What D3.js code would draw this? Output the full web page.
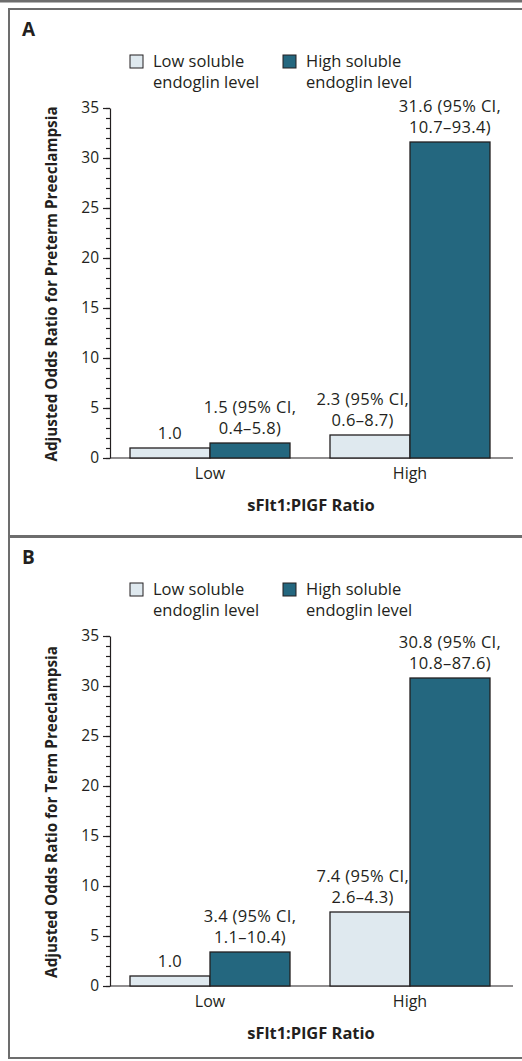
<!DOCTYPE html>
<html lang="en">
<head>
    <meta charset="UTF-8">
    <title>sEng and sFlt1:PlGF odds ratios</title>
    <script src="https://d3js.org/d3.v7.min.js"></script>
</head>
<style>
    * {
        margin: 0;
        padding: 0;
    }
    body {
        background: #fff;
    }
    text {
        font-family: "Open Sans", "Noto Sans", sans-serif;
        fill: #231f20;
    }
    .axis path, .axis line {
        stroke: #231f20;
        stroke-width: 1.2;
    }
</style>
<body>
<script>
    // categories
    var groups = ["Low", "High"];
    var seriesNames = ["Low soluble endoglin level", "High soluble endoglin level"];
    var legendLines = [["Low soluble", "endoglin level"], ["High soluble", "endoglin level"]];
    var seriesColors = ["#dfe9ef", "#24677f"];

    // panel A - preterm preeclampsia
    var pretermLowSeng = [1.0, 2.3];
    var pretermHighSeng = [1.5, 31.6];
    var pretermLowSengLabels = [["1.0"], ["2.3 (95% CI,", "0.6\u20138.7)"]];
    var pretermHighSengLabels = [["1.5 (95% CI,", "0.4\u20135.8)"], ["31.6 (95% CI,", "10.7\u201393.4)"]];

    // panel B - term preeclampsia
    var termLowSeng = [1.0, 7.4];
    var termHighSeng = [3.4, 30.8];
    var termLowSengLabels = [["1.0"], ["7.4 (95% CI,", "2.6\u20134.3)"]];
    var termHighSengLabels = [["3.4 (95% CI,", "1.1\u201310.4)"], ["30.8 (95% CI,", "10.8\u201387.6)"]];

    var yMajorTicks = [0, 5, 10, 15, 20, 25, 30, 35];
    var yMinorTicks = [];
    for (let i = 0; i <= 35; i++) yMinorTicks.push(i);

    var width = 522,
        height = 1061;

    var svg = d3.select("body")
                .append("svg")
                .attr("width", width)
                .attr("height", height);

    // thick rule at the very top
    svg.append("rect")
        .attr("x", 0).attr("y", 0)
        .attr("width", width).attr("height", 2.5)
        .style("fill", "#6d6d6d");

    var x0 = d3.scaleBand()
                .domain(groups)
                .range([110, 510])
                .paddingInner(0.2)
                .paddingOuter(0.1);

    var x1 = d3.scaleBand()
                .domain([0, 1])
                .range([0, x0.bandwidth()]);

    function drawPanel(top, boxH, letter, yTitle, lowVals, highVals, lowLabels, highLabels) {
        var g = svg.append("g").attr("transform", "translate(0," + top + ")");

        g.append("rect")
            .attr("x", 9).attr("y", 9)
            .attr("width", 600).attr("height", boxH)
            .style("fill", "none")
            .style("stroke", "#6d6d6d")
            .style("stroke-width", 2);

        g.append("text")
            .attr("x", 22).attr("y", 36)
            .style("font-size", "19px")
            .style("font-weight", "bold")
            .text(letter);

        // legend
        var legendX = [130, 283];
        seriesNames.forEach(function(name, i) {
            g.append("rect")
                .attr("x", legendX[i]).attr("y", 55)
                .attr("width", 13).attr("height", 13)
                .style("fill", seriesColors[i])
                .style("stroke", "#231f20")
                .style("stroke-width", 1);
            legendLines[i].forEach(function(line, j) {
                g.append("text")
                    .attr("x", legendX[i] + 23)
                    .attr("y", 67 + j * 21)
                    .style("font-size", "16.5px")
                    .text(line);
            });
        });

        var y = d3.scaleLinear()
                    .domain([0, 35])
                    .range([458, 108]);

        // minor ticks
        g.append("g")
            .attr("class", "axis")
            .attr("transform", "translate(110,0)")
            .call(d3.axisLeft(y).tickValues(yMinorTicks).tickSize(4).tickSizeOuter(0).tickFormat(""));

        var yAxis = g.append("g")
            .attr("class", "axis")
            .attr("transform", "translate(110,0)")
            .call(d3.axisLeft(y).tickValues(yMajorTicks).tickSize(7).tickSizeOuter(0).tickPadding(4));
        yAxis.selectAll("text")
            .style("font-size", "15.5px")
            .style("font-family", null);
        yAxis.select(".domain").remove();

        // x baseline
        g.append("line")
            .attr("x1", 110).attr("x2", 513)
            .attr("y1", y(0)).attr("y2", y(0))
            .style("stroke", "#231f20")
            .style("stroke-width", 1.2);

        var xAxis = g.append("g")
            .attr("class", "axis")
            .attr("transform", "translate(0," + y(0) + ")")
            .call(d3.axisBottom(x0).tickSize(0).tickPadding(10));
        xAxis.select(".domain").remove();
        xAxis.selectAll("text")
            .style("font-size", "16px")
            .style("font-family", null);

        var bars = [];
        groups.forEach(function(grp, i) {
            bars.push({group: grp, s: 0, value: lowVals[i], label: lowLabels[i], next: highVals[i]});
            bars.push({group: grp, s: 1, value: highVals[i], label: highLabels[i], next: null});
        });

        g.selectAll(".bar")
            .data(bars)
            .enter()
            .append("rect")
            .attr("class", "bar")
            .attr("x", function(d) { return x0(d.group) + x1(d.s); })
            .attr("width", x1.bandwidth())
            .attr("y", function(d) { return y(d.value); })
            .attr("height", function(d) { return y(0) - y(d.value); })
            .style("fill", function(d) { return seriesColors[d.s]; })
            .style("stroke", "#231f20")
            .style("stroke-width", 1.3);

        // value labels, one text per line
        bars.forEach(function(d) {
            var left = x0(d.group) + x1(d.s);
            var cx = left + x1.bandwidth() / 2;
            var n = d.label.length;
            var lines = d.label.map(function(line, j) {
                return g.append("text")
                    .attr("x", cx)
                    .attr("y", y(d.value) - 9 - (n - 1 - j) * 21.5)
                    .attr("text-anchor", "middle")
                    .style("font-size", "16.5px")
                    .style("letter-spacing", "0.35px")
                    .text(line);
            });
            // keep wide labels clear of a taller neighbour on the right
            if (d.next !== null && d.next > d.value) {
                var w = d3.max(lines, function(t) { return t.node().getBBox().width; });
                var right = left + x1.bandwidth();
                var c = Math.min(cx, right - w / 2 - 1);
                lines.forEach(function(t) { t.attr("x", c); });
            }
        });

        g.append("text")
            .attr("x", 311).attr("y", 511)
            .attr("text-anchor", "middle")
            .style("font-size", "16.5px")
            .style("font-weight", "bold")
            .text("sFlt1:PlGF Ratio");

        g.append("text")
            .attr("transform", "translate(57,284) rotate(-90)")
            .attr("text-anchor", "middle")
            .style("font-size", "15.3px")
            .style("font-weight", "bold")
            .text(yTitle);
    }

    drawPanel(0, 527, "A", "Adjusted Odds Ratio for Preterm Preeclampsia",
              pretermLowSeng, pretermHighSeng, pretermLowSengLabels, pretermHighSengLabels);
    drawPanel(528, 521, "B", "Adjusted Odds Ratio for Term Preeclampsia",
              termLowSeng, termHighSeng, termLowSengLabels, termHighSengLabels);
</script>
</body>
</html>
